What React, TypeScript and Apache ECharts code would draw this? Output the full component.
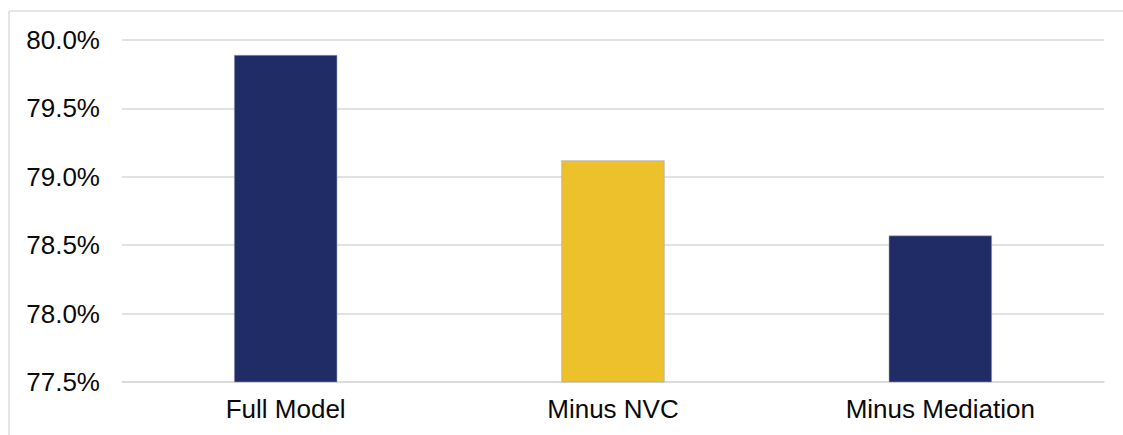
import React, { useEffect, useRef } from "react";
import * as echarts from "echarts";

const categories = ["Full Model", "Minus NVC", "Minus Mediation"];
const values = [79.89, 79.12, 78.57];
const barColors = ["#202C66", "#ECC12B", "#202C66"];
const yMin = 77.5;
const yMax = 80.0;
const yInterval = 0.5;

export default function App() {
  const ref = useRef<HTMLDivElement>(null);
  useEffect(() => {
    if (!ref.current) return;
    const chart = echarts.init(ref.current, null, { renderer: "svg" });
    chart.setOption({
      animation: false,
      backgroundColor: "#ffffff",
      textStyle: { fontFamily: "Liberation Sans, Arial, sans-serif" },
      grid: { left: 122, right: 19, top: 40, bottom: 53, containLabel: false },
      xAxis: {
        type: "category",
        data: categories,
        axisLine: { show: true, lineStyle: { color: "#d9d9d9", width: 1.5 } },
        axisTick: { show: false },
        axisLabel: { color: "#0a0a0a", fontSize: 26, margin: 14 },
      },
      yAxis: {
        type: "value",
        min: yMin,
        max: yMax,
        interval: yInterval,
        axisLine: { show: false },
        axisTick: { show: false },
        splitLine: { lineStyle: { color: "#d9d9d9", width: 1.5 } },
        axisLabel: {
          color: "#0a0a0a",
          fontSize: 26,
          margin: 22,
          formatter: (v: number) => v.toFixed(1) + "%",
        },
      },
      series: [
        {
          type: "bar",
          barWidth: "31.5%",
          data: values.map((v, i) => ({
            value: v,
            itemStyle: { color: barColors[i], borderColor: "#9aa0bc", borderWidth: 0.5 },
          })),
        },
      ],
      graphic: [
        {
          type: "line",
          shape: { x1: 9, y1: 11, x2: 1123, y2: 11 },
          style: { stroke: "#dedede", lineWidth: 1.5 },
          silent: true,
        },
        {
          type: "line",
          shape: { x1: 9, y1: 11, x2: 9, y2: 435 },
          style: { stroke: "#dedede", lineWidth: 1.5 },
          silent: true,
        },
      ],
    });
    return () => chart.dispose();
  }, []);
  return (
    <div
      ref={ref}
      style={{ position: "absolute", left: 0, top: 0, width: 1123, height: 435 }}
    />
  );
}
